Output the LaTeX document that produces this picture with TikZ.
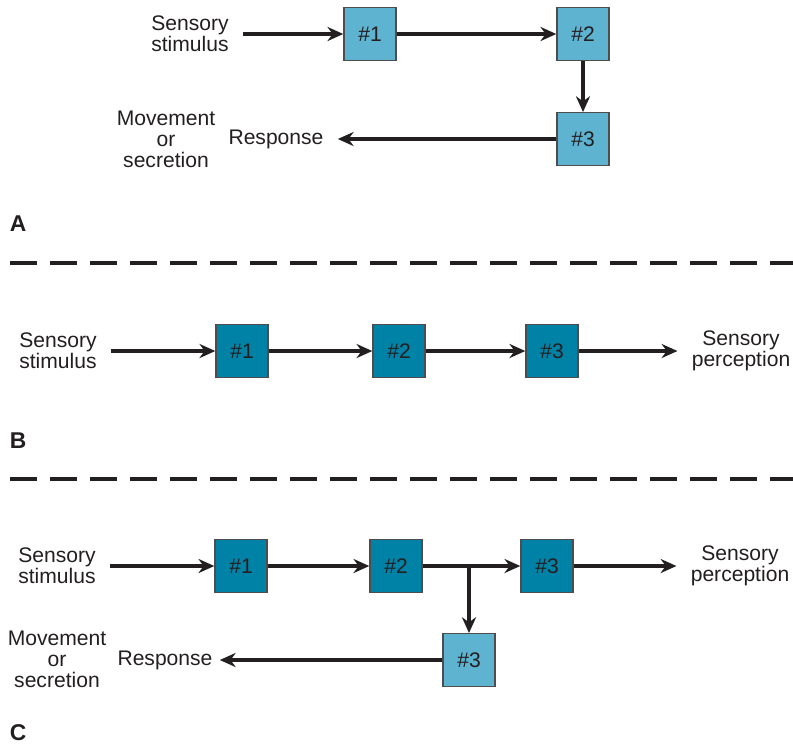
\documentclass[tikz,border=0pt]{standalone}
\usepackage{fontspec}
\setmainfont{Liberation Sans}
\usetikzlibrary{positioning, arrows.meta}
\definecolor{boxlight}{RGB}{93,179,208}
\definecolor{boxdark}{RGB}{0,130,166}
\definecolor{ink}{RGB}{35,31,32}

\begin{document}
\begin{tikzpicture}[x=0.02cm, y=-0.02cm, >={Stealth[length=9pt, width=8pt]},
    cell/.style={draw=ink!80, line width=0.8pt, minimum width=1.04cm, minimum height=1.05cm,
        inner sep=0pt, font=\fontsize{12}{12}\selectfont, text=ink},
    lightcell/.style={cell, fill=boxlight},
    darkcell/.style={cell, fill=boxdark},
    lbl/.style={align=center, inner xsep=0.28cm, inner ysep=0pt,
        font=\fontsize{12}{12}\selectfont, text=ink},
    panel/.style={font=\bfseries\fontsize{13}{13}\selectfont, text=ink, inner sep=0pt},
    arr/.style={->, line width=2pt, draw=ink},
    sep/.style={line width=2pt, draw=ink, dash pattern=on 0.54cm off 0.26cm}]

    \useasboundingbox (0, 0) rectangle (793, 745);

    % panel A
    \node[lbl] (stimA) at (190, 34) {Sensory\\stimulus};
    \node[lightcell] (a1) at (370, 34) {\#1};
    \node[lightcell] (a2) at (583, 34) {\#2};
    \node[lightcell] (a3) at (583, 139) {\#3};
    \node[lbl] (respA) at (276, 139) {Response};
    \node[lbl, inner xsep=0pt] (moveA) at (166, 139) {Movement\\or\\secretion};

    \draw[arr] (stimA) -- (a1);
    \draw[arr] (a1) -- (a2);
    \draw[arr] (a2) -- (a3);
    \draw[arr] (a3) -- (respA);

    \node[panel] (labA) at (18, 224) {A};
    \draw[sep] (10, 263) -- (793, 263);

    % panel B
    \node[lbl] (stimB) at (58, 351) {Sensory\\stimulus};
    \node[darkcell] (b1) at (242, 351) {\#1};
    \node[darkcell] (b2) at (399, 351) {\#2};
    \node[darkcell] (b3) at (552, 351) {\#3};
    \node[lbl] (percB) at (741, 351) {Sensory\\perception};

    \draw[arr] (stimB) -- (b1);
    \draw[arr] (b1) -- (b2);
    \draw[arr] (b2) -- (b3);
    \draw[arr] (b3) -- (percB);

    \node[panel] (labB) at (18, 441) {B};
    \draw[sep] (10, 479) -- (793, 479);

    % panel C
    \node[lbl] (stimC) at (57, 566) {Sensory\\stimulus};
    \node[darkcell] (c1) at (241, 566) {\#1};
    \node[darkcell] (c2) at (396, 566) {\#2};
    \node[darkcell] (c3) at (547, 566) {\#3};
    \node[lbl] (percC) at (740, 566) {Sensory\\perception};
    \node[lightcell] (c3r) at (469, 660) {\#3};
    \node[lbl, inner xsep=0.14cm] (respC) at (165, 660) {Response};
    \node[lbl, inner xsep=0pt] (moveC) at (57, 659) {Movement\\or\\secretion};
    \coordinate (fork) at (c3r.north |- c2.east);

    \draw[arr] (stimC) -- (c1);
    \draw[arr] (c1) -- (c2);
    \draw[arr] (c2) -- (c3);
    \draw[arr] (c3) -- (percC);
    \draw[arr] (fork) -- (c3r);
    \draw[arr] (c3r) -- (respC);

    \node[panel] (labC) at (18, 733) {C};
\end{tikzpicture}
\end{document}
